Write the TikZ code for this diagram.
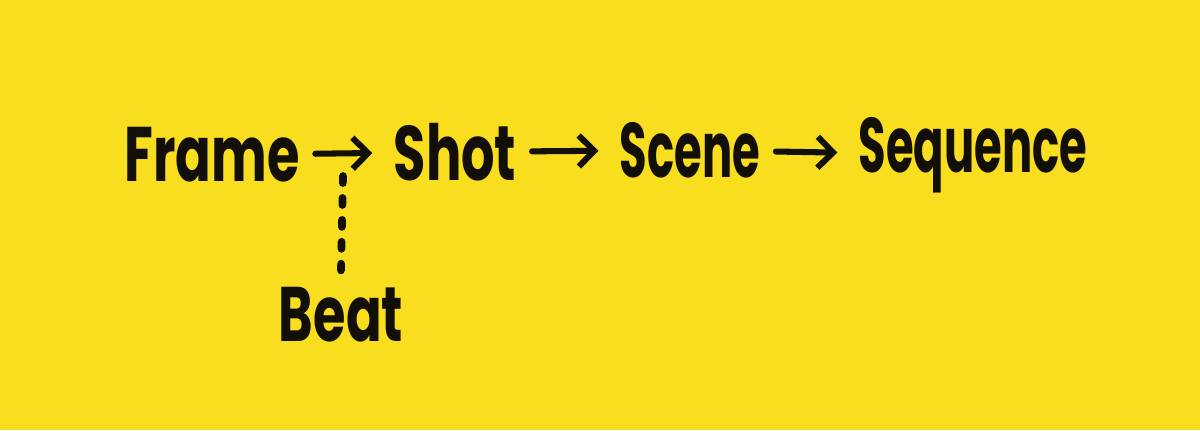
\documentclass[tikz,border=0pt]{standalone}
\usepackage{fontspec}
\setmainfont{Poppins}[FakeStretch=0.68]
\newfontfamily\narrowhand{Poppins}[FakeStretch=0.58]
\usepackage{tikz}
\usetikzlibrary{arrows.meta}

\definecolor{paper}{RGB}{248,222,30}
\definecolor{ink}{RGB}{18,14,8}

\tikzset{
    word/.style={text=ink,inner sep=0pt,font=\fontsize{55}{60}\selectfont\bfseries},
    longword/.style={word,font=\narrowhand\fontsize{55}{60}\selectfont\bfseries},
    flow/.style={draw=ink,line width=4.3pt,line cap=round,-{Straight Barb[length=11pt,width=22pt,line width=4.3pt]},shorten <=11pt,shorten >=15pt},
    beatline/.style={draw=ink,line width=5.5pt,line cap=round,dash pattern=on 5pt off 10.6pt}
}

\begin{document}
\begin{tikzpicture}[x=0.025cm,y=-0.025cm]
            \fill[paper] (0,0) rectangle (1200,430);
            \useasboundingbox (0,0) rectangle (1200,430);

            \node[word] (frame) at (212,155) {Frame};
            \node[word] (shot) at (455,152) {Shot};
            \node[longword] (scene) at (690,150) {Scene};
            \node[longword] (sequence) at (973,155) {Sequence};
            \node[word] (beat) at (341,315) {Beat};

            \draw[flow] (frame) -- (shot);
            \draw[flow] (shot) -- (scene);
            \draw[flow] (scene) -- (sequence);

            \coordinate (split) at (343,176);
            \draw[beatline] (split) -- ([yshift=12pt]beat.north);
        \end{tikzpicture}
\end{document}
